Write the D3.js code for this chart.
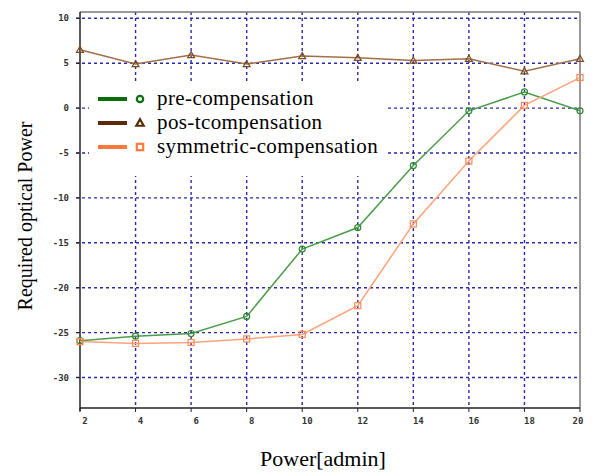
<!DOCTYPE html>
<html>
<head>
<meta charset="utf-8">
<script src="https://cdn.jsdelivr.net/npm/d3@7"></script>
<style>
  body { margin: 0; background: #fff; }
  svg { display: block; }
</style>
</head>
<body>
<div id="chart"></div>
<script>
var xValues = [2, 4, 6, 8, 10, 12, 14, 16, 18, 20];
var preComp = [-25.9, -25.4, -25.1, -23.2, -15.7, -13.3, -6.4, -0.3, 1.8, -0.3];
var postComp = [6.5, 4.9, 5.9, 4.9, 5.8, 5.6, 5.3, 5.5, 4.1, 5.5];
var symComp = [-26.0, -26.2, -26.1, -25.7, -25.2, -22.0, -12.9, -5.9, 0.3, 3.4];
var yTicks = [10, 5, 0, -5, -10, -15, -20, -25, -30];
var xTicks = [2, 4, 6, 8, 10, 12, 14, 16, 18, 20];
var seriesNames = ["pre-compensation", "pos-tcompensation", "symmetric-compensation"];

var W = 601, H = 476;
var plot = {left: 80, right: 580, top: 12, bottom: 408};
var serif = "'Liberation Serif', 'Times New Roman', serif";
var mono = "'DejaVu Sans Mono', monospace";

var svg = d3.select("#chart").append("svg")
    .attr("width", W)
    .attr("height", H);

var x = d3.scaleLinear().domain([2, 20]).range([plot.left, plot.right]);
var y = d3.scaleLinear().domain([-30, 10]).range([377.5, 18.3]);

var gridColor = "#2a2aa8";

// grid
svg.append("g").selectAll("line.hgrid")
    .data(yTicks)
    .enter().append("line")
    .attr("x1", plot.left - 4).attr("x2", plot.right)
    .attr("y1", function(d) { return y(d); })
    .attr("y2", function(d) { return y(d); })
    .style("stroke", gridColor)
    .style("stroke-width", 1.4)
    .style("stroke-dasharray", "3,3");

svg.append("g").selectAll("line.vgrid")
    .data(xTicks.slice(1, -1))
    .enter().append("line")
    .attr("x1", function(d) { return x(d); })
    .attr("x2", function(d) { return x(d); })
    .attr("y1", plot.top).attr("y2", plot.bottom)
    .style("stroke", gridColor)
    .style("stroke-width", 1.4)
    .style("stroke-dasharray", "3,3");

// frame
svg.append("line").attr("x1", plot.left).attr("x2", plot.right).attr("y1", plot.top).attr("y2", plot.top)
    .style("stroke", "#777").style("stroke-width", 1.5);
svg.append("line").attr("x1", plot.right).attr("x2", plot.right).attr("y1", plot.top).attr("y2", plot.bottom)
    .style("stroke", "#777").style("stroke-width", 1.5);
svg.append("line").attr("x1", plot.left).attr("x2", plot.left).attr("y1", plot.top).attr("y2", plot.bottom + 3)
    .style("stroke", "#222").style("stroke-width", 1.5);
svg.append("line").attr("x1", plot.left).attr("x2", plot.right).attr("y1", plot.bottom).attr("y2", plot.bottom)
    .style("stroke", "#222").style("stroke-width", 1.5);

// y ticks
svg.append("g").selectAll("line")
    .data(yTicks).enter().append("line")
    .attr("x1", plot.left - 4).attr("x2", plot.left)
    .attr("y1", function(d) { return y(d); })
    .attr("y2", function(d) { return y(d); })
    .style("stroke", "#222");
svg.append("g").selectAll("text")
    .data(yTicks).enter().append("text")
    .attr("x", 69)
    .attr("y", function(d) { return y(d) + 3; })
    .attr("text-anchor", "end")
    .style("font-family", mono).style("font-size", "9px").style("font-weight", "bold").style("fill", "#333")
    .text(function(d) { return d < 0 ? "-" + Math.abs(d) : d; });

// x ticks
svg.append("g").selectAll("line")
    .data(xTicks).enter().append("line")
    .attr("x1", function(d) { return x(d); })
    .attr("x2", function(d) { return x(d); })
    .attr("y1", plot.bottom).attr("y2", plot.bottom + 4)
    .style("stroke", "#222");
svg.append("g").selectAll("text")
    .data(xTicks).enter().append("text")
    .attr("x", function(d) { return d == 20 ? x(d) - 2 : x(d) + 5; })
    .attr("y", plot.bottom + 16)
    .attr("text-anchor", "middle")
    .style("font-family", mono).style("font-size", "9px").style("font-weight", "bold").style("fill", "#333")
    .text(function(d) { return d; });

// axis titles
svg.append("text")
    .attr("x", 323).attr("y", 466)
    .attr("text-anchor", "middle")
    .style("font-family", serif).style("font-size", "22px")
    .text("Power[admin]");
svg.append("text")
    .attr("transform", "translate(32,216) rotate(-90)")
    .attr("text-anchor", "middle")
    .style("font-family", serif).style("font-size", "20px")
    .text("Required optical Power");

// series
var series = [
    {name: seriesNames[0], values: preComp, line: "#4a9c4a", mark: "#2f8a2f", legend: "#0a6e0a", shape: "circle"},
    {name: seriesNames[1], values: postComp, line: "#a0704a", mark: "#7a4a22", legend: "#5a2a0a", shape: "triangle"},
    {name: seriesNames[2], values: symComp, line: "#ffa27a", mark: "#ff8a55", legend: "#ff7a3a", shape: "square"}
];

var lineGen = d3.line()
    .x(function(d) { return x(d[0]); })
    .y(function(d) { return y(d[1]); });

function drawMarker(g, shape, cx, cy, color, size, sw) {
    if (shape == "circle") {
        g.append("circle").attr("cx", cx).attr("cy", cy).attr("r", size)
            .style("fill", "none").style("stroke", color).style("stroke-width", sw);
    } else if (shape == "triangle") {
        var s = size * 1.15;
        g.append("path")
            .attr("d", "M" + cx + "," + (cy - s) + "L" + (cx + s) + "," + (cy + s * 0.75) + "L" + (cx - s) + "," + (cy + s * 0.75) + "Z")
            .style("fill", "none").style("stroke", color).style("stroke-width", sw);
    } else {
        g.append("rect").attr("x", cx - size).attr("y", cy - size)
            .attr("width", size * 2).attr("height", size * 2)
            .style("fill", "none").style("stroke", color).style("stroke-width", sw);
    }
}

series.forEach(function(s) {
    var pts = xValues.map(function(v, i) { return [v, s.values[i]]; });
    var g = svg.append("g");
    g.append("path")
        .datum(pts)
        .attr("d", lineGen)
        .style("fill", "none")
        .style("stroke", s.line)
        .style("stroke-width", 1.5);
    pts.forEach(function(p) {
        drawMarker(g, s.shape, x(p[0]), y(p[1]), s.mark, 3, 1.2);
    });
});

// legend (white box hides the grid behind it)
var legend = svg.append("g");
legend.append("rect")
    .attr("x", 89).attr("y", 84).attr("width", 298).attr("height", 92)
    .style("fill", "#fff");
series.forEach(function(s, i) {
    var ly = 99 + i * 24;
    legend.append("line")
        .attr("x1", 98).attr("x2", 127)
        .attr("y1", ly).attr("y2", ly)
        .style("stroke", s.legend)
        .style("stroke-width", 4);
    drawMarker(legend, s.shape, 140, ly, s.legend, 3.2, 2.2);
    legend.append("text")
        .attr("x", 157).attr("y", ly + 6)
        .style("font-family", serif).style("font-size", "21px")
        .style("letter-spacing", "0.4px")
        .text(s.name);
});
</script>
</body>
</html>
